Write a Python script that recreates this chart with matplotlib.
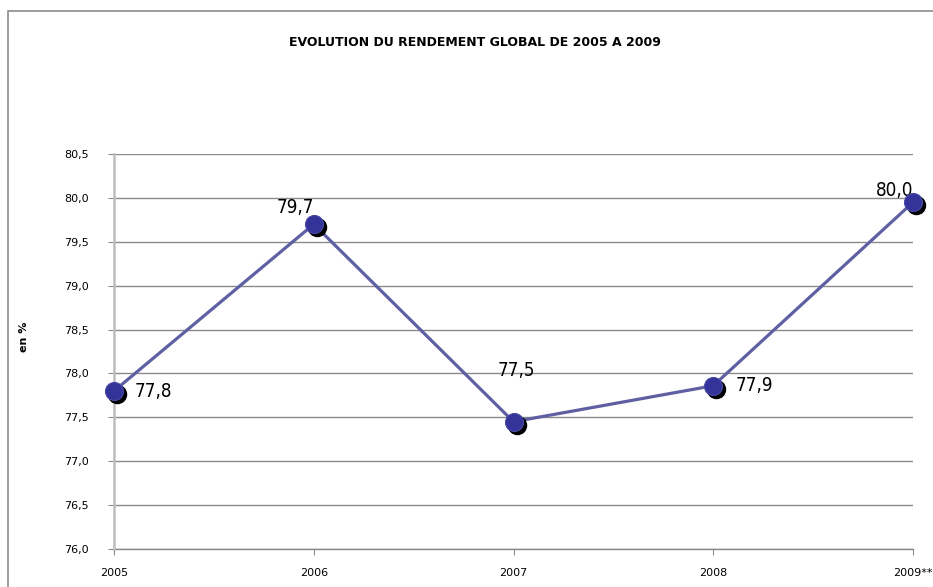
import matplotlib
matplotlib.use("Agg")
import matplotlib.pyplot as plt
import matplotlib.transforms as mtransforms
from matplotlib.patches import Rectangle
from matplotlib.ticker import FuncFormatter, MultipleLocator

years = ['2005', '2006', '2007', '2008', '2009**']
rendement = [77.8, 79.7, 77.45, 77.86, 79.95]
labels = ['77,8', '79,7', '77,5', '77,9', '80,0']
# label placement: (dx, dy) in points, ha, va
placement = [(15, 0, 'left', 'center'), (0, 5, 'right', 'bottom'),
             (2, 37, 'center', 'center'), (16, 0, 'left', 'center'),
             (0, 1.5, 'right', 'bottom')]

fig = plt.figure(figsize=(9.33, 5.87), dpi=100)
fig.patches.append(Rectangle((8 / 933, -0.1), 1.2, 1 - 11 / 587 + 0.1,
                             transform=fig.transFigure, fill=False,
                             edgecolor='#8c8c8c', linewidth=1.2))

ax = fig.add_axes([114 / 933, 38 / 587, 799 / 933, 395 / 587])
x = list(range(len(years)))

ax.plot(x, rendement, color='#5f5fa3', linewidth=2.3, zorder=3, clip_on=False)
shadow = mtransforms.offset_copy(ax.transData, fig=fig, x=2.2, y=-2.2, units='points')
ax.plot(x, rendement, 'o', markersize=13, color='black', transform=shadow,
        zorder=5, clip_on=False)
ax.plot(x, rendement, 'o', markersize=13, markerfacecolor='#333399',
        markeredgecolor='#4a4aa6', markeredgewidth=0.8, zorder=6, clip_on=False)

for xi, yi, lab, (dx, dy, ha, va) in zip(x, rendement, labels, placement):
    ax.annotate(lab, (xi, yi), xytext=(dx, dy), textcoords='offset points',
                ha=ha, va=va, fontsize=13.5, family='DejaVu Sans',
                fontstretch='condensed', zorder=4)

ax.set_xlim(0, 4)
ax.set_ylim(76, 80.5)
ax.yaxis.set_major_locator(MultipleLocator(0.5))
ax.yaxis.set_major_formatter(FuncFormatter(lambda v, p: f'{v:.1f}'.replace('.', ',')))
ax.set_xticks(x)
ax.set_xticklabels(years)
ax.grid(axis='y', color='#8a8a8a', linewidth=1)
ax.axhline(76, color='#8a8a8a', linewidth=1, clip_on=False, zorder=1)
ax.set_axisbelow(True)

for s in ['top', 'right', 'bottom']:
    ax.spines[s].set_visible(False)
ax.spines['left'].set_color('#bdbdbd')
ax.spines['left'].set_linewidth(1.8)

ax.tick_params(axis='y', length=4, color='#8a8a8a', labelsize=8, pad=14)
ax.tick_params(axis='x', length=4, color='#8a8a8a', labelsize=8, pad=10)

ax.set_ylabel('en %', fontsize=8, fontweight='bold')
ax.yaxis.set_label_coords(-0.107, 0.537)
fig.text(475 / 933, 1 - 42 / 587, 'EVOLUTION DU RENDEMENT GLOBAL DE 2005 A 2009',
         ha='center', va='center', fontsize=9, fontweight='bold')

fig.savefig('out.png', dpi=100)
